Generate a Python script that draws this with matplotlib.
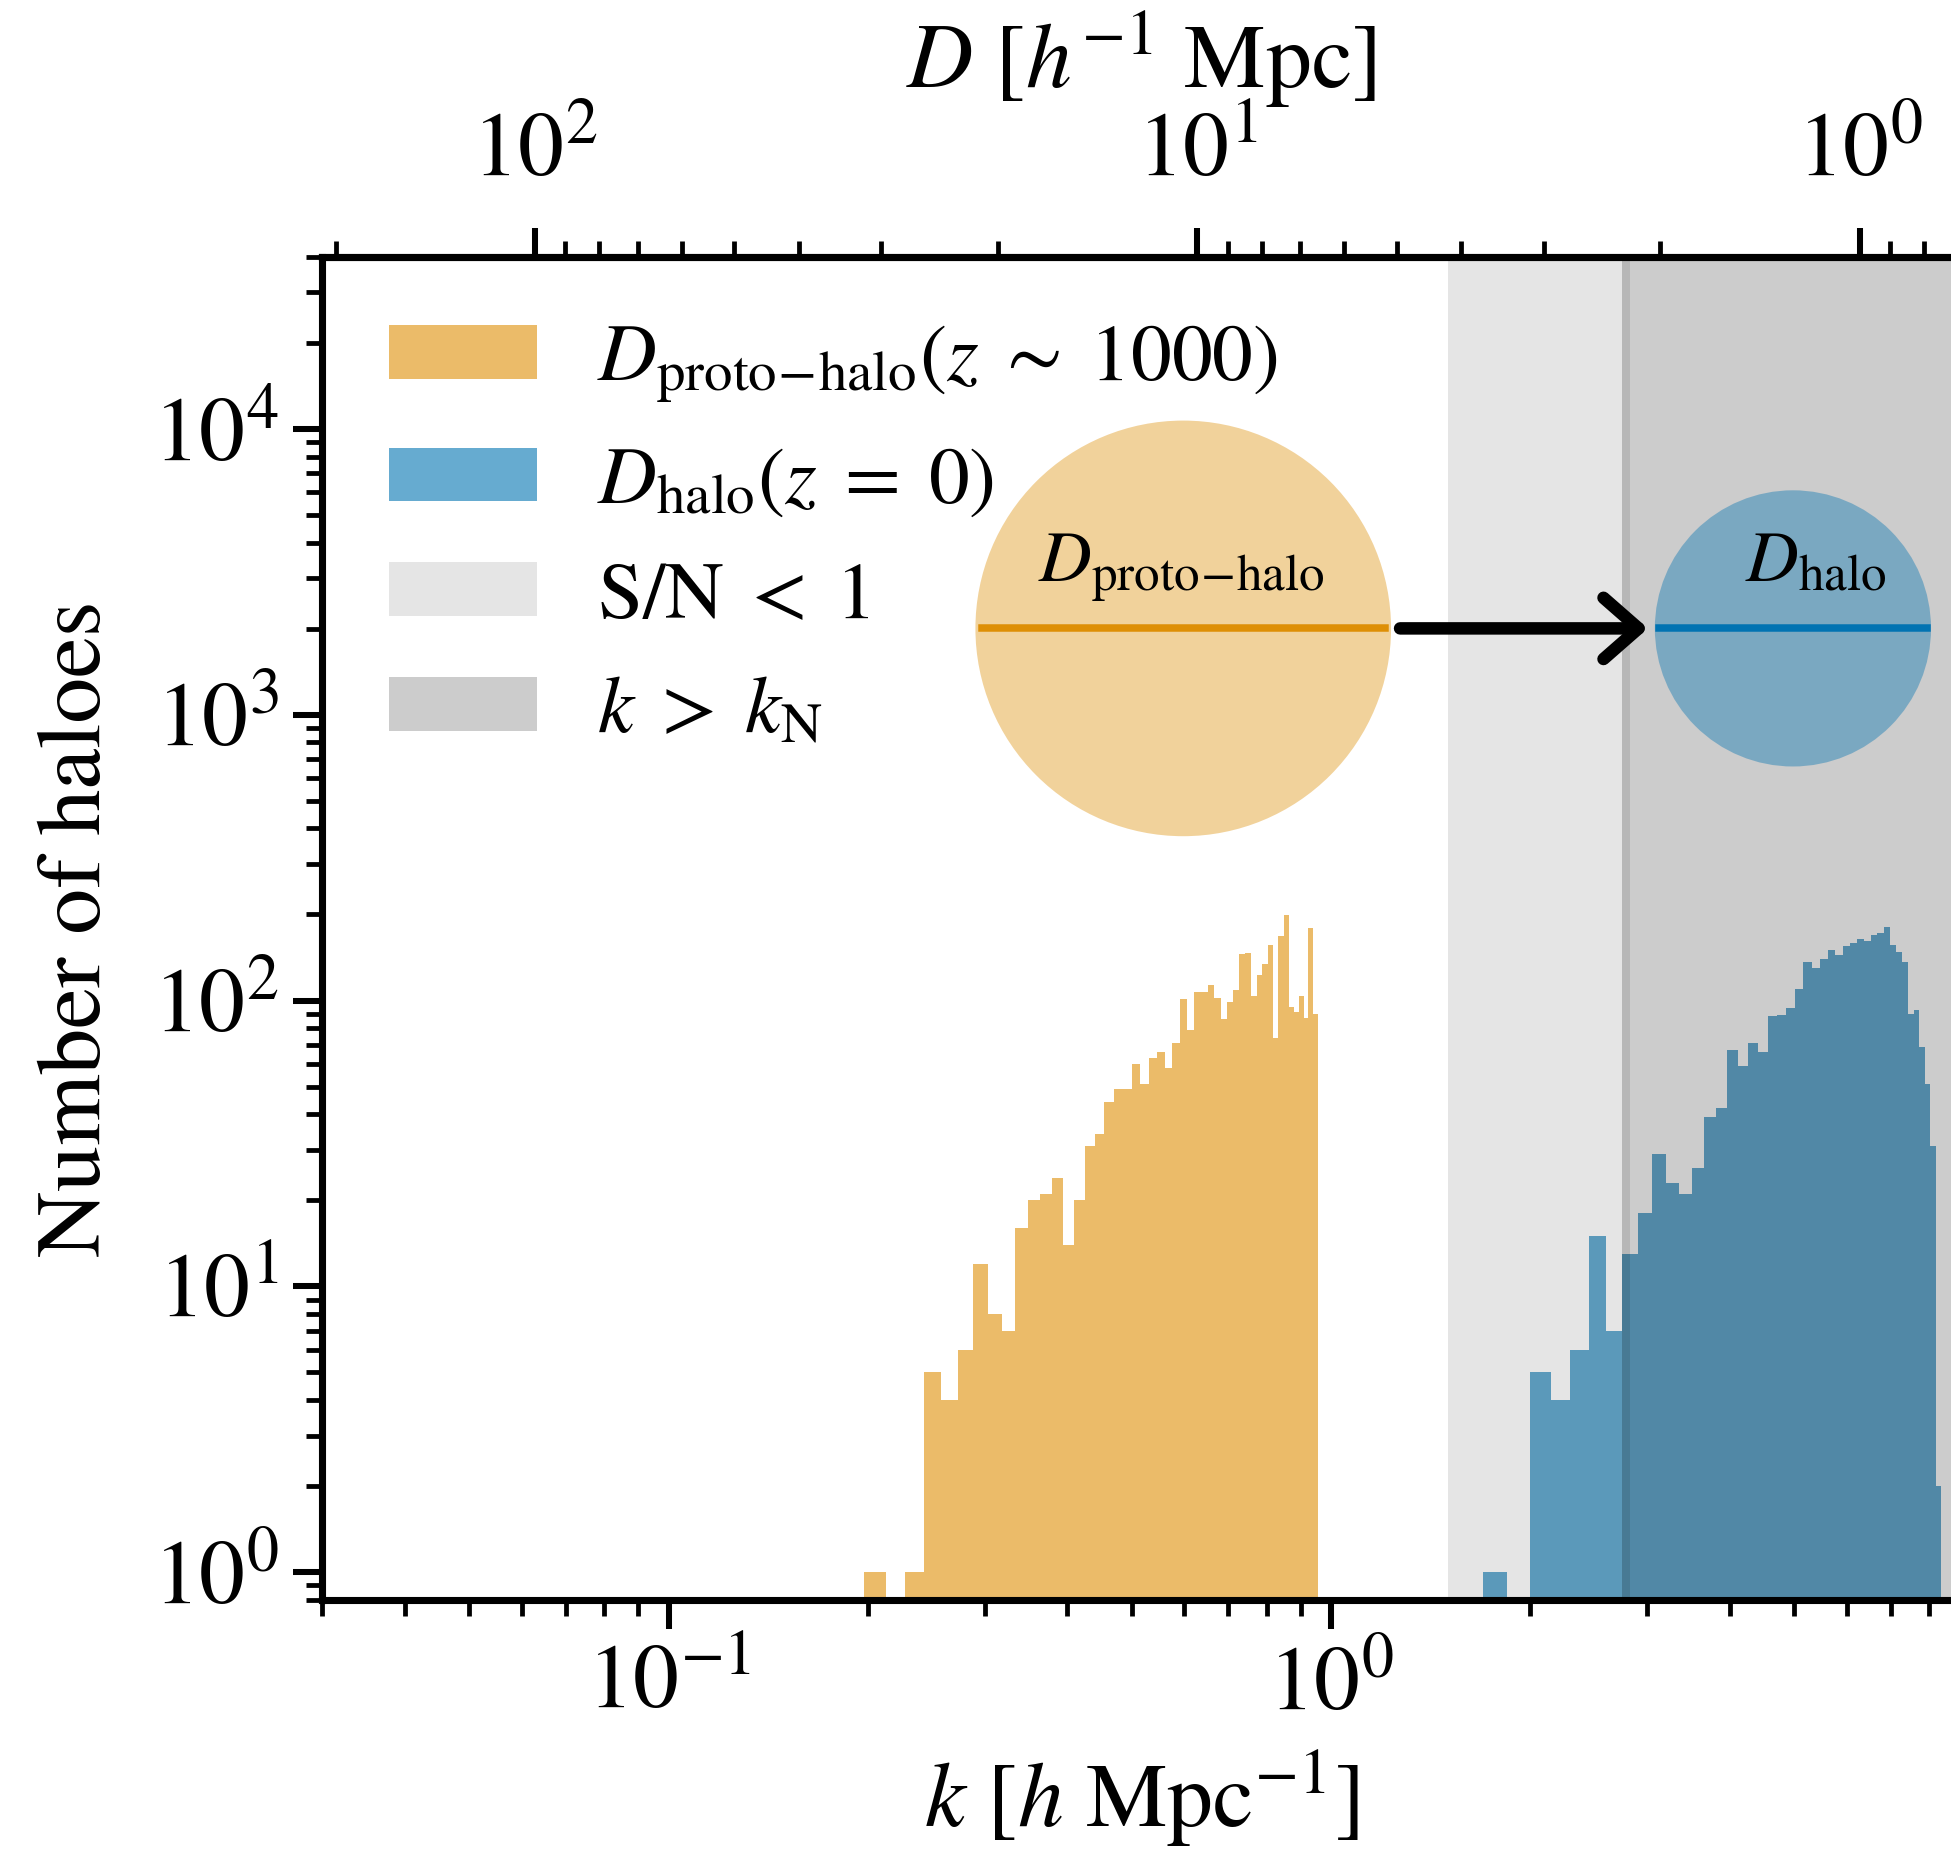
import numpy as np
import matplotlib
matplotlib.use("Agg")
import matplotlib.pyplot as plt
import matplotlib.transforms as mtransforms
from matplotlib.patches import Circle, FancyArrowPatch
from matplotlib.lines import Line2D

# ---- data -------------------------------------------------------------
# proto-halo scales (z ~ 1000), histogram binned linearly in k
proto_k_range = (0.1974, 0.954)
proto_counts = [1, 0, 1, 5, 4, 6, 12, 8, 7, 16,
                20, 21, 24, 14, 20, 31, 34, 44, 49, 49,
                60, 51, 63, 66, 58, 71, 101, 79, 107, 107,
                113, 102, 86, 99, 109, 145, 147, 104, 123, 134,
                156, 74, 168, 199, 95, 91, 104, 87, 179, 90]

# halo scales (z = 0), histogram binned linearly in k
halo_k_range = (1.6943, 8.333)
halo_counts = [1, 0, 5, 4, 6, 15, 7, 13, 18, 29,
               23, 21, 26, 39, 42, 67, 59, 71, 66, 88,
               89, 94, 110, 136, 130, 140, 150, 144, 155, 159,
               164, 161, 170, 172, 181, 156, 148, 136, 90, 93,
               69, 51, 31, 2]

# shaded k ranges
sn_range = (1.5, 2.826)        # S/N < 1
nyquist_start = 2.745          # k > k_N

k_limits = (0.03, 8.9)
n_limits = (0.8, 4e4)
D_major_ticks = [1, 10, 100]

labels = [r"$D_{\rm proto\!-\!halo}(z\;\sim\;1000)$", r"$D_{\rm halo}(z\;=\;0)$",
          r"$\mathrm{S/N}\;<\;1$", r"$k\;>\;k_{\rm N}$"]

orange = "#DE8F05"
blue = "#0173B2"

# ---- style ------------------------------------------------------------
plt.rcParams.update({
    "font.family": "STIXGeneral",
    "mathtext.fontset": "stix",
    "axes.linewidth": 1.7,
    "xtick.major.size": 7, "xtick.minor.size": 3.9,
    "ytick.major.size": 7, "ytick.minor.size": 3.9,
    "xtick.major.width": 1.45, "xtick.minor.width": 1.15,
    "ytick.major.width": 1.45, "ytick.minor.width": 1.15,
    "xtick.direction": "out", "ytick.direction": "out",
    "xtick.labelsize": 22, "ytick.labelsize": 22,
    "axes.labelsize": 22,
})

W, H, DPI = 1951, 1858, 300
fig = plt.figure(figsize=(W / DPI, H / DPI), dpi=DPI)
ax = fig.add_axes([0.1652, 0.13886, 1.0046 - 0.1652, 0.86184 - 0.13886])


def bin_edges(k_range, counts):
    return np.linspace(k_range[0], k_range[1], len(counts) + 1)


e_p = bin_edges(proto_k_range, proto_counts)
e_h = bin_edges(halo_k_range, halo_counts)
ax.hist(0.5 * (e_p[1:] + e_p[:-1]), bins=e_p, weights=proto_counts,
        color=orange, alpha=0.6, label=labels[0])
ax.hist(0.5 * (e_h[1:] + e_h[:-1]), bins=e_h, weights=halo_counts,
        color=blue, alpha=0.6, label=labels[1])

ax.axvspan(sn_range[0], sn_range[1], color="k", alpha=0.1, lw=0,
           label=labels[2], zorder=2)
ax.axvspan(nyquist_start, 100, color="k", alpha=0.2, lw=0,
           label=labels[3], zorder=2)

ax.set_xscale("log")
ax.set_yscale("log")
ax.set_xlim(*k_limits)
ax.set_ylim(*n_limits)
ax.spines["right"].set_visible(False)
ax.tick_params(which="both", top=False, right=False)
ax.tick_params(axis="x", which="major", pad=4)

ax.set_xlabel(r"$k\ [h\ \mathrm{Mpc}^{-1}]$", labelpad=4.5)
ax.set_ylabel("Number of haloes", labelpad=8)


def k_to_D(k):
    k = np.asarray(k, dtype=float)
    with np.errstate(divide="ignore"):
        return 2 * np.pi / k


secax = ax.secondary_xaxis("top", functions=(k_to_D, k_to_D))
secax.set_xticks(D_major_ticks)
secax.tick_params(axis="x", which="major", pad=7.5)
secax.set_xlabel(r"$D\ [h^{-1}\ \mathrm{Mpc}]$", labelpad=5.5)

ax.legend(loc="upper left", frameon=False, fontsize=19.5,
          handlelength=1.82, handleheight=0.64, handletextpad=0.74,
          borderaxespad=0.42, labelspacing=0.52)


# ---- schematic: proto-halo collapsing into a halo ---------------------
def anchored(cx, cy):
    return fig.dpi_scale_trans + mtransforms.ScaledTranslation(cx, cy, ax.transAxes)


sketch = [(0.5257, 0.7233, 0.6927, orange), (0.8980, 0.7233, 0.4603, blue)]
for cx, cy, r, c in sketch:
    tr = anchored(cx, cy)
    ax.add_patch(Circle((0, 0), r, transform=tr, facecolor=c, alpha=0.4,
                        lw=0, zorder=4))
    ax.add_line(Line2D([-0.97 * r, 0.97 * r], [0, 0], transform=tr,
                       color=c, lw=1.8, zorder=5))

arrow = FancyArrowPatch((0.6581, 0.7233), (0.8095, 0.7233),
                        transform=ax.transAxes,
                        arrowstyle="->,head_length=0.4,head_width=0.35",
                        mutation_scale=21, lw=3.0, color="k",
                        shrinkA=0, shrinkB=0, capstyle="round",
                        joinstyle="round", zorder=6)
ax.add_patch(arrow)

ax.text(0.5245, 0.7586, r"$D_{\rm proto\!-\!halo}$", transform=ax.transAxes,
        ha="center", va="baseline", fontsize=17.5, zorder=7)
ax.text(0.9121, 0.7586, r"$D_{\rm halo}$", transform=ax.transAxes,
        ha="center", va="baseline", fontsize=17.5, zorder=7)

fig.savefig("out.png", dpi=DPI)
